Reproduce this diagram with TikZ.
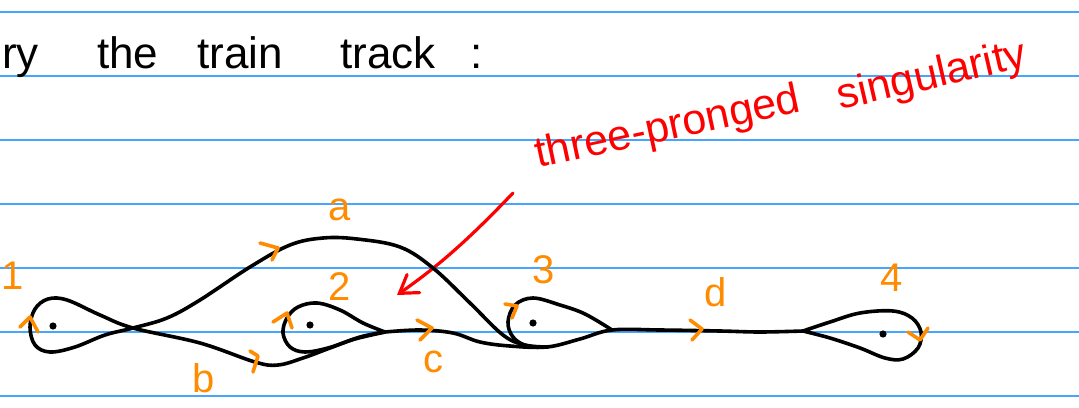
\documentclass[tikz,border=0pt]{standalone}
\usepackage{fontspec}
\setmainfont{Liberation Sans}
\usetikzlibrary{arrows.meta}
\definecolor{ruleBlue}{RGB}{70,165,255}
\definecolor{noteOrange}{RGB}{255,140,0}
\definecolor{noteRed}{RGB}{255,0,0}
\tikzset{
    rule/.style={draw=ruleBlue, line width=1.6pt},
    track/.style={draw=black, line width=3.6pt, line cap=round, line join=round},
    puncture/.style={fill=black},
    dirtick/.style={draw=noteOrange, line width=3.6pt, line cap=round, line join=round},
    tracklabel/.style={text=noteOrange, font=\fontsize{40}{44}\selectfont, inner sep=0pt},
    heading/.style={font=\fontsize{44}{48}\selectfont, inner sep=0pt, anchor=base west},
    remark/.style={text=noteRed, font=\fontsize{43}{46}\selectfont, inner sep=0pt, anchor=base west},
    pointer/.style={draw=noteRed, line width=3.2pt, line cap=round,
                    -{Straight Barb[length=17pt, width=22pt, line cap=round]}},
}

\begin{document}
\begin{tikzpicture}[x=1pt, y=-1pt]
\useasboundingbox (0,0) rectangle (1079,407);
\fill[white] (0,0) rectangle (1079,407);

% ─── Lignes du cahier ───────────────────────────────────────────────────
\foreach \y in {12,76,...,396}{
    \draw[rule] (0,\y) -- (1079,\y);
}

% ─── Titre ──────────────────────────────────────────────────────────────
\node[heading] (hTry)   at (2,68)   {ry};
\node[heading] (hThe)   at (97,68)  {the};
\node[heading] (hTrain) at (197,68) {train};
\node[heading] (hTrack) at (340,68) {track};
\node[heading] (hColon) at (470,68) {:};

% ─── Remarque en rouge ──────────────────────────────────────────────────
\node[remark, rotate=12] (rProng) at (538,168) {three-pronged};
\node[remark, rotate=13] (rSing)  at (840,110) {singularity};

\coordinate (pTail) at (513,193);
\coordinate (pTip)  at (397,295);
\draw[pointer] (pTail) .. controls (470,238) and (440,265) .. (pTip);

% ─── Aiguillages ────────────────────────────────────────────────────────
\coordinate (s1) at (133,328);
\coordinate (s2) at (385,332);
\coordinate (s3) at (612,330);
\coordinate (s4) at (803,331);

% b, boucle 1, puis a
\draw[track] plot[smooth, tension=0.6] coordinates {(s2) (360,337) (330,348)
    (303,358) (278,365) (255,362) (200,343) (s1) (100,315) (67,300) (48,299)
    (35,309) (30,327) (35,345) (50,352) (75,347) (105,335) (s1) (167,318)
    (200,300) (250,267) (290,245) (323,238) (357,239) (400,247) (433,268)
    (470,303) (503,335) (525,345) (548,347)};

% boucle 2
\draw[track] plot[smooth, tension=0.6] coordinates {(s2) (363,323) (340,310)
    (317,303) (298,307) (287,318) (283,333) (290,347) (305,352) (328,348)
    (355,339) (s2)};

% c puis d
\draw[track] plot[smooth, tension=0.6] coordinates {(s2) (420,330) (453,333)
    (480,342) (510,346) (547,347) (580,339) (s3) (660,330) (720,331)
    (760,332) (s4)};

% boucle 3
\draw[track] plot[smooth, tension=0.6] coordinates {(s3) (585,314) (560,305)
    (533,298) (515,305) (508,322) (513,337) (527,346) (547,347)};

% boucle 4
\draw[track] plot[smooth, tension=0.6] coordinates {(s4) (830,322) (860,313)
    (893,311) (912,318) (921,332) (918,348) (903,359) (885,358) (860,348)
    (830,338) (s4)};

% ─── Perforations ───────────────────────────────────────────────────────
\foreach \p in {{53,326},{310,325},{533,323},{883,334}}{
    \fill[puncture] (\p) circle[radius=3.6pt];
}

% ─── Sens de parcours ───────────────────────────────────────────────────
\foreach \p/\q/\r in {{20,327}/{30,317}/{38,332}, {260,243}/{278,248}/{272,260},
                      {273,322}/{287,313}/{292,328}, {250,351}/{258,356}/{253,372},
                      {417,320}/{432,328}/{420,340}, {505,304}/{517,306}/{512,318},
                      {690,320}/{702,329}/{692,340}, {908,332}/{920,340}/{928,328}}{
    \draw[dirtick] (\p) -- (\q) -- (\r);
}

% ─── Étiquettes ─────────────────────────────────────────────────────────
\node[tracklabel] (n1) at (13,276)  {1};
\node[tracklabel] (la) at (340,210) {a};
\node[tracklabel] (n2) at (340,287) {2};
\node[tracklabel] (lb) at (204,378) {b};
\node[tracklabel] (lc) at (433,362) {c};
\node[tracklabel] (n3) at (544,270) {3};
\node[tracklabel] (ld) at (716,292) {d};
\node[tracklabel] (n4) at (892,278) {4};

\end{tikzpicture}
\end{document}
